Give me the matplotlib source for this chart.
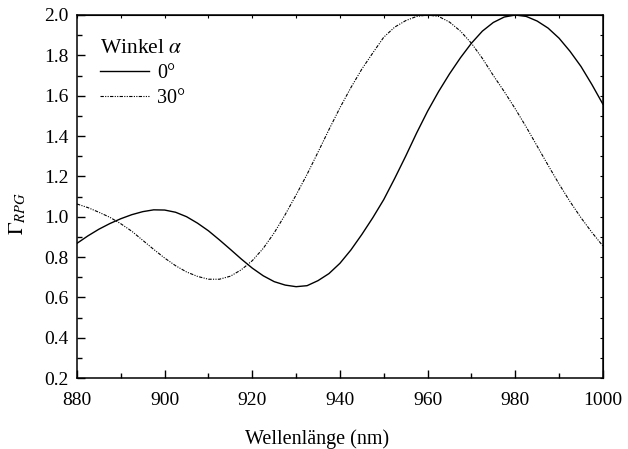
import matplotlib
matplotlib.use("Agg")
import matplotlib.pyplot as plt
import numpy as np

plt.rcParams['font.family'] = ['Liberation Serif', 'DejaVu Serif']
plt.rcParams['mathtext.fontset'] = 'stix'
plt.rcParams['font.size'] = 14

wavelength = [880, 882.5, 885, 887.5, 890, 892.5, 895, 897.5, 900, 902.5,
              905, 907.5, 910, 912.5, 915, 917.5, 920, 922.5, 925, 927.5,
              930, 932.5, 935, 937.5, 940, 942.5, 945, 947.5, 950, 952.5,
              955, 957.5, 960, 962.5, 965, 967.5, 970, 972.5, 975, 977.5,
              980, 982.5, 985, 987.5, 990, 992.5, 995, 997.5, 1000]

gamma_0 = [0.868, 0.905, 0.938, 0.966, 0.990, 1.010, 1.025, 1.034, 1.033, 1.022,
           1.000, 0.968, 0.930, 0.885, 0.838, 0.790, 0.745, 0.707, 0.678, 0.661,
           0.653, 0.658, 0.683, 0.718, 0.769, 0.835, 0.912, 0.995, 1.085, 1.190,
           1.300, 1.415, 1.523, 1.620, 1.708, 1.788, 1.860, 1.920, 1.963, 1.990,
           2.000, 1.993, 1.970, 1.935, 1.885, 1.820, 1.745, 1.655, 1.558]

gamma_30 = [1.063, 1.045, 1.022, 0.997, 0.965, 0.928, 0.883, 0.838, 0.795, 0.757,
            0.726, 0.704, 0.690, 0.690, 0.705, 0.737, 0.782, 0.843, 0.920, 1.010,
            1.108, 1.210, 1.320, 1.432, 1.540, 1.640, 1.732, 1.812, 1.890, 1.940,
            1.972, 1.993, 2.000, 1.993, 1.965, 1.920, 1.860, 1.785, 1.700, 1.620,
            1.535, 1.445, 1.350, 1.255, 1.162, 1.075, 0.995, 0.922, 0.855]

labels = ['0°', '30°']
xticks = [880, 900, 920, 940, 960, 980, 1000]
yticks = [0.2, 0.4, 0.6, 0.8, 1.0, 1.2, 1.4, 1.6, 1.8, 2.0]

fig = plt.figure(figsize=(6.28, 4.49), dpi=100)
ax = fig.add_axes([0.1226, 0.158, 0.8374, 0.8086])

ax.plot(wavelength, gamma_0, color='black', lw=1.0, label=labels[0])
ax.plot(wavelength, gamma_30, color='black', lw=0.8,
        linestyle=(0, (3, 1.2, 1, 1.2, 1, 1.2)), label=labels[1])

ax.set_xlim(880, 1000)
ax.set_ylim(0.2, 2.0)
ax.set_xticks(xticks)
ax.set_yticks(yticks)
ax.set_xticks(np.arange(890, 1000, 20), minor=True)
ax.set_yticks(np.arange(0.3, 2.0, 0.2), minor=True)
ax.set_yticklabels([f'{v:.1f}' for v in yticks])
ax.tick_params(which='major', direction='in', length=6, width=1.0,
               top=False, right=False, labelsize=14, pad=6)
ax.tick_params(which='minor', direction='in', length=3.5, width=1.0,
               top=False, right=False)
ax.tick_params(axis='x', which='major', pad=10)
for s in ax.spines.values():
    s.set_linewidth(1.1)

top = ax.secondary_xaxis('top')
top.set_xticks(np.arange(880, 1001, 10))
top.tick_params(direction='in', length=2, width=0.8, labeltop=False)
top.set_xticklabels([])
right = ax.secondary_yaxis('right')
right.set_yticks(np.arange(0.2, 2.01, 0.1))
right.tick_params(direction='in', length=2, width=0.8, labelright=False)
right.set_yticklabels([])

ax.set_xlabel('Wellenlänge (nm)', fontsize=14.5)
ax.xaxis.set_label_coords(0.456, -0.14)
ax.set_ylabel(r'$\Gamma_{RPG}$', fontsize=15)
ax.yaxis.set_label_coords(-0.093, 0.4545)

leg = ax.legend(title=r'Winkel $\alpha$', loc='upper left',
                bbox_to_anchor=(0.01, 0.985), frameon=False, fontsize=14.5,
                title_fontsize=15.5, handlelength=2.4, handletextpad=0.4,
                labelspacing=0.3, alignment='left')

fig.savefig('out.png', dpi=100)
